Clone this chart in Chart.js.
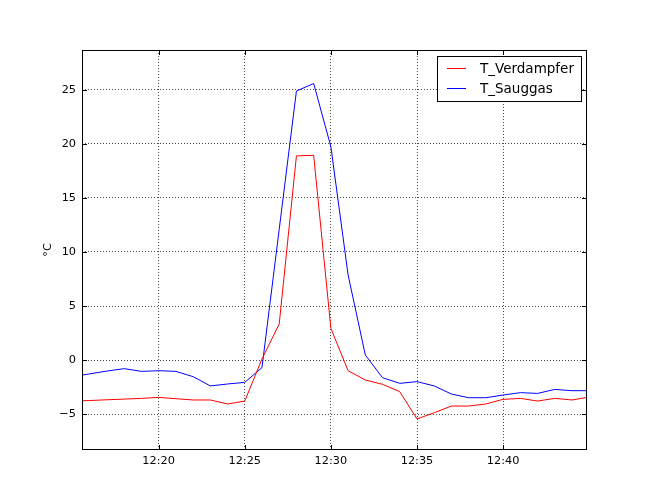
<!DOCTYPE html>
<html>
<head>
<meta charset="utf-8">
<script src="https://cdn.jsdelivr.net/npm/chart.js@4.4.1/dist/chart.umd.min.js"></script>
<style>
  html, body { margin: 0; padding: 0; background: #fff; }
</style>
</head>
<body>
<canvas id="myChart" width="652" height="500"></canvas>
<script>
// minutes after 12:00
const minutes = [15.55, 16, 17, 18, 19, 20, 21, 22, 23, 24, 25, 26, 27, 28, 29, 30,
   31, 32, 33, 34, 35, 36, 37, 38, 39, 40, 41, 42, 43, 44, 44.87];
const tVerdampfer = [-3.77, -3.75, -3.68, -3.62, -3.55, -3.46, -3.58, -3.7, -3.7, -4.07, -3.8, 0.1,
   3.33, 18.9, 18.95, 2.93, -0.99, -1.85, -2.25, -2.93, -5.46, -4.88, -4.26, -4.26, -4.07,
   -3.64, -3.55, -3.8, -3.55, -3.7, -3.46];
const tSauggas = [-1.4, -1.28, -1.02, -0.8, -1.05, -0.99, -1.05, -1.54, -2.4, -2.22, -2.07, -0.7,
   12.1, 24.9, 25.6, 19.75, 7.87, 0.46, -1.64, -2.16, -2.0, -2.4, -3.15, -3.49, -3.49,
   -3.24, -3.02, -3.09, -2.72, -2.84, -2.84];
const xTicks = [20, 25, 30, 35, 40];
const xTickLabels = ["12:20", "12:25", "12:30", "12:35", "12:40"];
const yTicks = [-5, 0, 5, 10, 15, 20, 25];
const seriesNames = ["T_Verdampfer", "T_Sauggas"];

const tickFont = { family: "DejaVu Sans", size: 11.3 };

const frame = {
   id: "frame",
   afterDraw(chart) {
      const { ctx, chartArea: a, scales } = chart;
      ctx.save();
      ctx.strokeStyle = "#000";
      ctx.lineWidth = 1;
      ctx.strokeRect(Math.round(a.left) + 0.5, Math.round(a.top) + 0.5,
         Math.round(a.right - a.left) - 1, Math.round(a.bottom - a.top) - 1);
      // inward ticks on all four sides
      ctx.beginPath();
      xTicks.forEach((v) => {
         const x = Math.round(scales.x.getPixelForValue(v)) + 0.5;
         ctx.moveTo(x, a.bottom); ctx.lineTo(x, a.bottom - 5);
         ctx.moveTo(x, a.top); ctx.lineTo(x, a.top + 5);
      });
      yTicks.forEach((v) => {
         const y = Math.round(scales.y.getPixelForValue(v)) + 0.5;
         ctx.moveTo(a.left, y); ctx.lineTo(a.left + 5, y);
         ctx.moveTo(a.right, y); ctx.lineTo(a.right - 5, y);
      });
      ctx.stroke();

      // y axis title
      ctx.fillStyle = "#000";
      ctx.font = "11.3px 'DejaVu Sans'";
      ctx.textAlign = "center";
      ctx.textBaseline = "middle";
      ctx.translate(48, 250);
      ctx.rotate(-Math.PI / 2);
      ctx.fillText("°C", 0, 0);
      ctx.restore();

      // legend
      ctx.save();
      ctx.fillStyle = "#fff";
      ctx.fillRect(437.5, 56.5, 144, 45);
      ctx.strokeStyle = "#000";
      ctx.lineWidth = 1;
      ctx.strokeRect(437.5, 56.5, 144, 45);
      const colors = ["rgb(255, 0, 0)", "rgb(0, 0, 255)"];
      ctx.font = "13.5px 'DejaVu Sans'";
      ctx.textAlign = "left";
      ctx.textBaseline = "middle";
      seriesNames.forEach((name, i) => {
         const y = 68 + i * 20;
         ctx.strokeStyle = colors[i];
         ctx.beginPath();
         ctx.moveTo(447, y + 0.5); ctx.lineTo(466, y + 0.5);
         ctx.stroke();
         ctx.fillStyle = "#000";
         ctx.fillText(name, 480, y + 1);
      });
      ctx.restore();
   },
};

const ctx = document.getElementById("myChart");
const myChart = new Chart(ctx, {
   type: "line",
   data: {
      datasets: [
         {
            label: seriesNames[0],
            data: minutes.map((m, i) => ({ x: m, y: tVerdampfer[i] })),
            borderColor: "rgb(255, 0, 0)",
            borderWidth: 1,
            pointRadius: 0,
            tension: 0,
         },
         {
            label: seriesNames[1],
            data: minutes.map((m, i) => ({ x: m, y: tSauggas[i] })),
            borderColor: "rgb(0, 0, 255)",
            borderWidth: 1,
            pointRadius: 0,
            tension: 0,
         },
      ],
   },
   options: {
      responsive: false,
      animation: false,
      layout: { padding: { top: 50, right: 65, left: 0, bottom: 0 } },
      plugins: {
         legend: { display: false },
         tooltip: { enabled: false },
      },
      scales: {
         x: {
            type: "linear",
            min: 15.55,
            max: 44.87,
            afterFit(s) { s.height = 50; },
            afterBuildTicks(s) { s.ticks = xTicks.map((v) => ({ value: v })); },
            ticks: {
               color: "#000",
               font: tickFont,
               padding: 4,
               maxRotation: 0,
               autoSkip: false,
               callback: (v) => xTickLabels[xTicks.indexOf(v)],
            },
            grid: { color: "rgba(0,0,0,0.7)", lineWidth: 1, drawTicks: false },
            border: { display: false, dash: [1, 2] },
         },
         y: {
            min: -8.33,
            max: 28.7,
            afterFit(s) { s.width = 82; },
            afterBuildTicks(s) { s.ticks = yTicks.map((v) => ({ value: v })); },
            ticks: {
               color: "#000",
               font: tickFont,
               padding: 6,
               autoSkip: false,
               callback: (v) => (v < 0 ? "\u2212" + Math.abs(v) : String(v)),
            },
            grid: { color: "rgba(0,0,0,0.7)", lineWidth: 1, drawTicks: false },
            border: { display: false, dash: [1, 2] },
         },
      },
   },
   plugins: [frame],
});
</script>
</body>
</html>
